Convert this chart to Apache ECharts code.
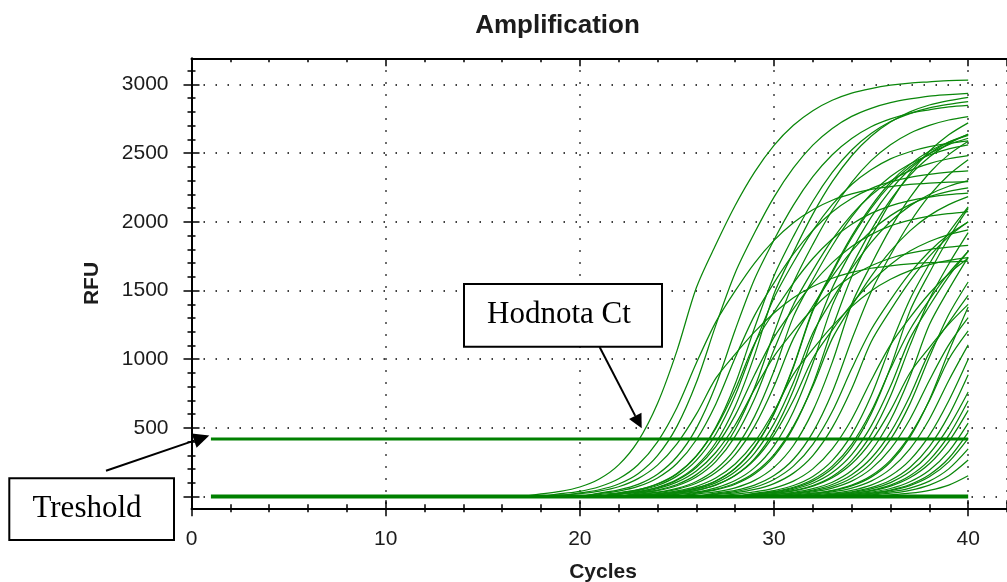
<!DOCTYPE html>
<html><head><meta charset="utf-8">
<script src="https://cdn.jsdelivr.net/npm/echarts@6/dist/echarts.min.js"></script>
<style>html,body{margin:0;padding:0;background:#fff}#c{width:1007px;height:582px}</style>
</head><body><div id="c"></div>
<script>
// ---- data (RFU, one value per cycle) ----
const yTickLabels = [0, 500, 1000, 1500, 2000, 2500, 3000];
const xTickLabels = [0, 10, 20, 30, 40];
const thresholdRfu = 420;
const baselineRfu = 0;
const lineCycles = [1, 40];

// group A: earliest amplifiers (first cycle of each array)
const startA = [17, 18, 19, 18, 20, 20, 21, 20, 21, 21, 21, 21, 22, 22, 22, 22, 22, 23];
const rfuA = [
  [0, 20, 38, 70, 128, 231, 404, 678, 1061, 1520, 1833, 2119, 2362, 2557, 2703, 2809, 2885, 2937, 2970, 2994, 3010, 3019, 3028, 3031],
  [0, 21, 39, 72, 130, 232, 399, 647, 972, 1270, 1497, 1700, 1865, 1994, 2088, 2157, 2203, 2236, 2256, 2272, 2282, 2289, 2293],
  [0, 27, 50, 92, 167, 298, 511, 830, 1246, 1628, 1920, 2180, 2392, 2558, 2679, 2767, 2826, 2867, 2894, 2915, 2926, 2935],
  [0, 12, 21, 40, 72, 131, 229, 384, 600, 860, 1037, 1199, 1336, 1447, 1529, 1589, 1632, 1662, 1680, 1694, 1703, 1708, 1713],
  [0, 26, 49, 89, 163, 290, 497, 808, 1213, 1584, 1868, 2121, 2328, 2488, 2606, 2692, 2749, 2790, 2815, 2836, 2847],
  [0, 22, 40, 74, 136, 241, 414, 673, 1010, 1319, 1556, 1766, 1938, 2072, 2170, 2242, 2290, 2323, 2345, 2361, 2371],
  [0, 26, 49, 91, 165, 294, 504, 819, 1229, 1606, 1894, 2150, 2360, 2523, 2642, 2730, 2788, 2829, 2855, 2875],
  [0, 15, 28, 51, 94, 169, 297, 497, 778, 1115, 1345, 1554, 1733, 1875, 1982, 2061, 2116, 2154, 2179, 2197, 2208],
  [0, 24, 44, 81, 149, 264, 454, 737, 1107, 1446, 1706, 1936, 2125, 2272, 2379, 2458, 2510, 2547, 2570, 2589],
  [0, 19, 35, 65, 119, 212, 364, 591, 887, 1159, 1367, 1552, 1703, 1821, 1907, 1970, 2012, 2041, 2060, 2075],
  [0, 20, 37, 68, 124, 224, 392, 658, 1030, 1475, 1779, 2056, 2292, 2481, 2623, 2726, 2800, 2850, 2882, 2906],
  [0, 17, 31, 58, 105, 187, 321, 521, 782, 1021, 1204, 1367, 1500, 1604, 1680, 1735, 1772, 1798, 1815, 1828],
  [0, 26, 48, 88, 160, 285, 489, 794, 1191, 1557, 1836, 2084, 2287, 2445, 2561, 2645, 2702, 2741, 2766],
  [0, 23, 43, 79, 143, 255, 438, 712, 1069, 1397, 1647, 1870, 2052, 2193, 2297, 2373, 2424, 2459, 2482],
  [0, 18, 32, 60, 110, 199, 348, 584, 914, 1310, 1580, 1826, 2036, 2203, 2329, 2421, 2486, 2531, 2560],
  [0, 15, 29, 53, 97, 175, 306, 513, 803, 1150, 1387, 1603, 1787, 1934, 2045, 2125, 2183, 2222, 2247],
  [0, 12, 22, 41, 75, 135, 237, 397, 621, 890, 1073, 1241, 1383, 1497, 1582, 1645, 1689, 1719, 1739],
  [0, 18, 34, 63, 114, 206, 362, 607, 949, 1360, 1640, 1896, 2113, 2288, 2418, 2513, 2581, 2628]
];

// group B: middle amplifiers
const startB = [23, 23, 24, 23, 24, 24, 25, 25, 26, 26, 26, 27, 28, 28, 28, 28, 29, 28];
const rfuB = [
  [0, 18, 33, 62, 113, 205, 359, 602, 942, 1350, 1628, 1882, 2098, 2271, 2400, 2495, 2562, 2608],
  [0, 16, 30, 55, 100, 181, 317, 531, 831, 1190, 1435, 1659, 1849, 2002, 2116, 2199, 2259, 2299],
  [0, 25, 46, 86, 156, 277, 477, 774, 1162, 1518, 1790, 2032, 2230, 2384, 2497, 2580, 2635],
  [0, 13, 25, 46, 84, 153, 267, 448, 701, 1005, 1212, 1401, 1562, 1690, 1787, 1857, 1907, 1942],
  [0, 19, 34, 64, 117, 211, 370, 620, 970, 1390, 1676, 1938, 2160, 2338, 2471, 2569, 2638],
  [0, 15, 29, 53, 97, 175, 306, 513, 803, 1150, 1387, 1603, 1787, 1934, 2045, 2125, 2183],
  [0, 26, 49, 90, 164, 293, 503, 816, 1225, 1601, 1888, 2143, 2352, 2514, 2633, 2720],
  [0, 19, 35, 64, 118, 213, 372, 624, 977, 1400, 1688, 1952, 2176, 2355, 2489, 2587],
  [0, 25, 46, 84, 153, 272, 468, 760, 1141, 1490, 1758, 1995, 2190, 2341, 2452],
  [0, 20, 37, 68, 125, 222, 381, 619, 930, 1214, 1432, 1626, 1784, 1907, 1998],
  [0, 15, 28, 52, 95, 171, 299, 502, 785, 1125, 1357, 1568, 1748, 1892, 2000],
  [0, 18, 34, 62, 113, 202, 347, 563, 845, 1104, 1302, 1478, 1622, 1734],
  [0, 24, 44, 81, 147, 262, 451, 732, 1099, 1435, 1693, 1921, 2109],
  [0, 20, 37, 68, 125, 222, 381, 619, 930, 1214, 1432, 1626, 1784],
  [0, 18, 33, 62, 113, 205, 359, 602, 942, 1350, 1628, 1882, 2098],
  [0, 15, 29, 53, 97, 175, 306, 513, 803, 1150, 1387, 1603, 1787],
  [0, 24, 44, 81, 147, 262, 451, 732, 1099, 1435, 1693, 1921],
  [0, 12, 22, 41, 76, 137, 239, 401, 628, 900, 1085, 1255, 1399]
];

// group C: late amplifiers
const startC = [29, 29, 30, 30, 30, 31, 31, 31, 32, 32, 32, 32, 33, 33, 33, 34, 34, 35];
const rfuC = [
  [0, 17, 31, 58, 105, 190, 333, 558, 873, 1250, 1508, 1743],
  [0, 14, 26, 48, 88, 159, 279, 468, 733, 1050, 1266, 1464],
  [0, 22, 41, 75, 136, 242, 416, 675, 1014, 1325, 1562],
  [0, 18, 34, 62, 113, 202, 347, 563, 845, 1104, 1302],
  [0, 13, 25, 46, 84, 152, 266, 446, 698, 1000, 1206],
  [0, 23, 42, 78, 142, 252, 433, 704, 1056, 1380],
  [0, 18, 34, 62, 113, 202, 347, 563, 845, 1104],
  [0, 13, 25, 46, 84, 152, 266, 446, 698, 1000],
  [0, 16, 30, 56, 102, 182, 312, 507, 761],
  [0, 19, 35, 65, 119, 212, 364, 591, 887],
  [0, 12, 22, 41, 76, 137, 239, 401, 628],
  [0, 13, 25, 46, 84, 152, 266, 446, 698],
  [0, 17, 32, 59, 108, 192, 329, 535],
  [0, 14, 26, 48, 88, 159, 279, 468],
  [0, 13, 24, 44, 80, 144, 253, 424],
  [0, 18, 34, 62, 113, 202, 347],
  [0, 13, 25, 46, 84, 152, 266],
  [0, 13, 25, 46, 84, 152]
];

// ---- chart ----
const GREEN = '#008000';
const series = [];
function addGroup(starts, groups) {
  groups.forEach((vals, i) => {
    series.push({
      type: 'line', xAxisIndex: 0, yAxisIndex: 0,
      data: vals.map((v, k) => [starts[i] + k, v]),
      symbol: 'none', showSymbol: false, silent: true, z: 2,
      smooth: 0.3,
      lineStyle: { width: 1.25, color: '#0a870a' }
    });
  });
}
addGroup(startA, rfuA);
addGroup(startB, rfuB);
addGroup(startC, rfuC);
series.push({
  type: 'line', data: lineCycles.map(c => [c, baselineRfu]), symbol: 'none', silent: true, z: 5,
  lineStyle: { width: 4, color: GREEN }
});
series.push({
  type: 'line', data: lineCycles.map(c => [c, thresholdRfu]), symbol: 'none', silent: true, z: 5,
  lineStyle: { width: 3, color: GREEN }
});

const minorY = [];
for (let v = 0; v <= 3100; v += 100) minorY.push(v);

const DOT = { type: [1.5, 10.5], color: '#000', width: 1.5 };
const TICK = { color: '#000', width: 1.5 };
const labelFont = { fontSize: 21, fontFamily: '"Liberation Sans", Arial, sans-serif', color: '#1c1c1c' };

const xBase = { type: 'value', min: 0, max: 42, axisLabel: { show: false }, splitLine: { show: false },
  axisLine: { show: false, onZero: false } };
const xAxis = [
  Object.assign({}, xBase, { position: 'bottom', interval: 10,
    axisLine: { show: true, onZero: false, lineStyle: { color: '#000', width: 2 } },
    axisTick: { show: true, length: 8, lineStyle: TICK },
    axisLabel: Object.assign({ show: true, margin: 20, showMaxLabel: false,
      formatter: v => xTickLabels.indexOf(v) >= 0 ? String(v) : '' }, labelFont),
    splitLine: { show: true, lineStyle: DOT } }),
  Object.assign({}, xBase, { position: 'bottom', interval: 10, axisTick: { show: true, inside: true, length: 8, lineStyle: TICK } }),
  Object.assign({}, xBase, { position: 'bottom', interval: 2, axisTick: { show: true, length: 4, lineStyle: TICK } }),
  Object.assign({}, xBase, { position: 'bottom', interval: 2, axisTick: { show: true, inside: true, length: 4, lineStyle: TICK } }),
  Object.assign({}, xBase, { position: 'top', interval: 10,
    axisLine: { show: true, onZero: false, lineStyle: { color: '#000', width: 2 } },
    axisTick: { show: true, inside: true, length: 8, lineStyle: TICK } }),
  Object.assign({}, xBase, { position: 'top', interval: 2, axisTick: { show: true, inside: true, length: 4, lineStyle: TICK } })
];

const yBase = { type: 'value', min: -85, max: 3190, splitNumber: 5, position: 'left',
  axisLabel: { show: false }, splitLine: { show: false }, axisLine: { show: false, onZero: false } };
const yAxis = [
  Object.assign({}, yBase, {
    axisLine: { show: true, onZero: false, lineStyle: { color: '#000', width: 2 } },
    axisTick: { show: true, length: 8, lineStyle: TICK, customValues: yTickLabels },
    axisLabel: Object.assign({ show: true, margin: 23, customValues: yTickLabels,
      formatter: v => String(v) }, labelFont),
    splitLine: { show: true, lineStyle: DOT } }),
  Object.assign({}, yBase, { axisTick: { show: true, inside: true, length: 8, lineStyle: TICK, customValues: yTickLabels } }),
  Object.assign({}, yBase, { axisTick: { show: true, length: 4, lineStyle: TICK, customValues: minorY } }),
  Object.assign({}, yBase, { axisTick: { show: true, inside: true, length: 4, lineStyle: TICK, customValues: minorY } })
];

function arrow(x1, y1, x2, y2, headLen, halfW) {
  const dx = x2 - x1, dy = y2 - y1, L = Math.hypot(dx, dy);
  const ux = dx / L, uy = dy / L;
  const bx = x2 - ux * headLen, by = y2 - uy * headLen;
  return [
    { type: 'line', shape: { x1: x1, y1: y1, x2: bx, y2: by }, style: { stroke: '#000', lineWidth: 2 }, z: 100 },
    { type: 'polygon', shape: { points: [[x2, y2], [bx - uy * halfW, by + ux * halfW], [bx + uy * halfW, by - ux * halfW]] },
      style: { fill: '#000' }, z: 100 }
  ];
}

const serif = '31px "Liberation Serif", "Times New Roman", serif';
const graphic = [
  { type: 'text', x: 557.5, y: 26, z: 100, style: { text: 'Amplification', font: 'bold 26px "Liberation Sans", Arial, sans-serif',
      fill: '#1c1c1c', align: 'center', verticalAlign: 'middle', textAlign: 'center', textVerticalAlign: 'middle' } },
  { type: 'text', x: 603, y: 572, z: 100, style: { text: 'Cycles', font: 'bold 21px "Liberation Sans", Arial, sans-serif',
      fill: '#1c1c1c', align: 'center', verticalAlign: 'middle', textAlign: 'center', textVerticalAlign: 'middle' } },
  { type: 'text', x: 92.5, y: 283.5, rotation: Math.PI / 2, z: 100, style: { text: 'RFU', font: 'bold 21px "Liberation Sans", Arial, sans-serif',
      fill: '#1c1c1c', align: 'center', verticalAlign: 'middle', textAlign: 'center', textVerticalAlign: 'middle' } },
  { type: 'rect', shape: { x: 464, y: 284, width: 198, height: 62.7 }, style: { fill: '#fff', stroke: '#000', lineWidth: 2 }, z: 100 },
  { type: 'text', x: 558.9, y: 315.3, z: 101, style: { text: 'Hodnota Ct', font: serif, fill: '#000',
      align: 'center', verticalAlign: 'middle', textAlign: 'center', textVerticalAlign: 'middle' } },
  { type: 'rect', shape: { x: 9.3, y: 478.3, width: 164.7, height: 61.7 }, style: { fill: '#fff', stroke: '#000', lineWidth: 2 }, z: 100 },
  { type: 'text', x: 87, y: 509.2, z: 101, style: { text: 'Treshold', font: serif, fill: '#000',
      align: 'center', verticalAlign: 'middle', textAlign: 'center', textVerticalAlign: 'middle' } }
].concat(arrow(599.6, 347, 641.7, 428.3, 14, 7)).concat(arrow(106, 470.7, 209.3, 435.5, 16, 7.5));

const chart = echarts.init(document.getElementById('c'), null, { renderer: 'canvas' });
chart.setOption({
  animation: false,
  backgroundColor: '#fff',
  grid: { left: 191.5, top: 58.3, width: 822.8, height: 450, containLabel: false },
  xAxis: xAxis,
  yAxis: yAxis,
  series: series,
  graphic: graphic
});
</script>
</body></html>
